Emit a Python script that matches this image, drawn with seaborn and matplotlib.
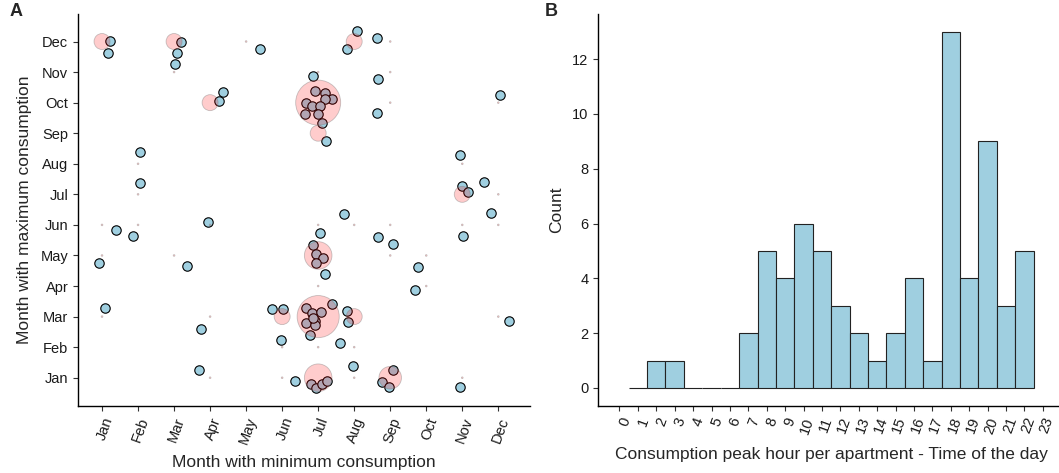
import numpy as np
import pandas as pd
import matplotlib
matplotlib.use("Agg")
import matplotlib.pyplot as plt
import seaborn as sns

# ---------------- data ----------------
month_labels = ["Jan", "Feb", "Mar", "Apr", "May", "Jun",
                "Jul", "Aug", "Sep", "Oct", "Nov", "Dec"]

# month (1-12) of minimum and maximum consumption per apartment
min_month = [1, 1, 3, 3, 3, 4, 4, 2, 2, 5, 8, 8, 9, 7,
             7, 7, 7, 7, 7, 7, 7, 7, 7,
             7, 7, 9, 9, 12, 11, 11, 11, 12, 12,
             4, 1, 2, 1, 3, 1, 4, 4, 8, 7, 9,
             7, 7, 7, 7, 7, 6, 6,
             7, 7, 7, 7, 7, 7, 7, 7,
             7, 6, 8, 8, 8, 8, 6,
             7, 7, 7, 7,
             9, 11, 10, 10, 12, 9, 9, 9, 11]
max_month = [12, 12, 12, 12, 11, 10, 10, 8, 7, 12, 12, 12, 12, 11,
             10, 10, 10, 10, 10, 10, 10, 10, 10,
             9, 9, 11, 10, 10, 8, 7, 7, 7, 6,
             6, 6, 6, 5, 5, 3, 3, 1, 6, 6, 6,
             5, 5, 5, 5, 4, 3, 3,
             3, 3, 3, 3, 3, 3, 3, 3,
             2, 2, 2, 3, 3, 1, 1,
             1, 1, 1, 1,
             5, 6, 5, 4, 3, 1, 1, 1, 1]
# jitter offsets of each plotted point
jitter_x = [0.22, 0.17, 0.19, 0.08, 0.02, 0.36, 0.25, 0.06, 0.05, 0.38, 0.08, -0.20, -0.38, -0.13,
            -0.08, 0.19, 0.37, 0.20, -0.33, -0.17, 0.04, -0.37, 0.00,
            0.12, 0.21, -0.35, -0.37, 0.06, -0.06, -0.01, 0.17, -0.41, -0.20,
            -0.06, 0.39, -0.13, -0.09, 0.36, 0.08, -0.25, -0.31, -0.27, 0.06, -0.35,
            -0.13, -0.06, 0.14, -0.06, 0.18, -0.27, 0.02,
            -0.33, -0.18, 0.08, 0.38, -0.34, -0.10, -0.08, -0.14,
            -0.23, -0.04, -0.40, -0.19, -0.16, -0.03, 0.35,
            -0.19, -0.06, 0.11, 0.24,
            0.08, 0.01, -0.24, -0.31, 0.31, 0.08, -0.24, -0.03, -0.05]
jitter_y = [0.01, -0.36, -0.03, -0.37, 0.28, 0.34, 0.04, 0.37, 0.37, -0.24, 0.34, -0.23, 0.10, -0.14,
            0.37, 0.31, 0.11, 0.11, -0.02, -0.11, -0.11, -0.37, -0.36,
            0.35, -0.24, -0.24, -0.35, 0.24, 0.30, 0.26, 0.09, 0.40, 0.39,
            0.09, -0.18, -0.36, -0.26, -0.33, 0.28, -0.39, 0.26, 0.37, -0.26, -0.39,
            0.34, 0.04, -0.08, -0.25, 0.39, 0.24, 0.25,
            0.27, 0.12, 0.15, 0.40, -0.20, -0.14, -0.28, -0.05,
            0.40, 0.23, 0.13, 0.17, -0.19, 0.39, -0.10,
            -0.21, -0.33, -0.21, -0.10,
            0.36, -0.35, -0.39, -0.14, -0.15, 0.24, -0.14, -0.31, -0.31]

# consumption peak hour histogram
hours = list(range(1, 23))
hour_counts = [0, 1, 1, 0, 0, 0, 2, 5, 4, 6, 5, 3, 2, 1, 2, 4, 1, 13, 4, 9, 3, 5]

# ---------------- style ----------------
sns.set_style("ticks")
plt.rcParams["font.family"] = ["Liberation Sans", "DejaVu Sans"]
plt.rcParams["axes.edgecolor"] = "black"
plt.rcParams["axes.linewidth"] = 1.0
plt.rcParams["xtick.color"] = "#333333"
plt.rcParams["ytick.color"] = "#333333"
plt.rcParams["xtick.labelcolor"] = "#1a1a1a"
plt.rcParams["ytick.labelcolor"] = "#1a1a1a"

BLUE = "#9FCFE0"

W, H = 1059, 473
fig = plt.figure(figsize=(W / 100, H / 100), dpi=100)
bottom = 1 - 405.7 / H
height = (405.7 - 14) / H
ax1 = fig.add_axes([78 / W, bottom, (530 - 78) / W, height])
ax2 = fig.add_axes([598.3 / W, bottom, (1064 - 598.3) / W, height])

# ---------------- panel A ----------------
df = pd.DataFrame({"min": min_month, "max": max_month, "jx": jitter_x, "jy": jitter_y})
df["x"] = df["min"] + df["jx"]
df["y"] = df["max"] + df["jy"]
cnt = df.groupby(["min", "max"]).size().reset_index(name="n")

sns.scatterplot(data=df, x="x", y="y", ax=ax1, color=BLUE, edgecolor="black",
                linewidth=0.8, s=46, zorder=2, legend=False)
sns.scatterplot(data=cnt, x="min", y="max", size="n", sizes=(1.5, 1050), ax=ax1,
                color=(1, 0, 0, 0.2), edgecolor=(0.45, 0.45, 0.45, 0.4),
                linewidth=0.6, zorder=3, legend=False)

ax1.set_xlim(0.333, 12.88)
ax1.set_ylim(0.085, 12.9)
ax1.set_xticks(range(1, 13))
ax1.set_xticklabels(month_labels, rotation=70, ha="right", va="top",
                    rotation_mode="anchor", fontsize=10.5)
ax1.set_yticks(range(1, 13))
ax1.set_yticklabels(month_labels, fontsize=10.5)
ax1.set_xlabel("Month with minimum consumption", fontsize=12.5, labelpad=6)
ax1.set_ylabel("Month with maximum consumption", fontsize=12.5, labelpad=6)
ax1.tick_params(length=3.5, width=0.8)
sns.despine(ax=ax1)

# ---------------- panel B ----------------
hist_df = pd.DataFrame({"hour": hours, "count": hour_counts})
sns.histplot(data=hist_df, x="hour", weights="count", discrete=True, ax=ax2,
             color=BLUE, edgecolor="#222222", linewidth=0.8, alpha=1)
ax2.set_xlim(-1.15, 24.15)
ax2.set_ylim(-0.65, 13.65)
ax2.set_xticks(range(0, 24))
ax2.set_xticklabels([str(h) for h in range(24)], rotation=70, ha="right", va="top",
                    rotation_mode="anchor", fontsize=10.5)
ax2.set_yticks(range(0, 13, 2))
ax2.tick_params(axis="y", labelsize=10.5)
ax2.set_xlabel("Consumption peak hour per apartment - Time of the day", fontsize=12.5, labelpad=8)
ax2.set_ylabel("Count", fontsize=12.5, labelpad=6)
ax2.tick_params(length=3.5, width=0.8)
sns.despine(ax=ax2)

fig.text(10 / W, 1 - 12 / H, "A", fontsize=13, fontweight="bold", va="center", ha="left")
fig.text(545 / W, 1 - 12 / H, "B", fontsize=13, fontweight="bold", va="center", ha="left")

fig.savefig("out.png", dpi=100)
